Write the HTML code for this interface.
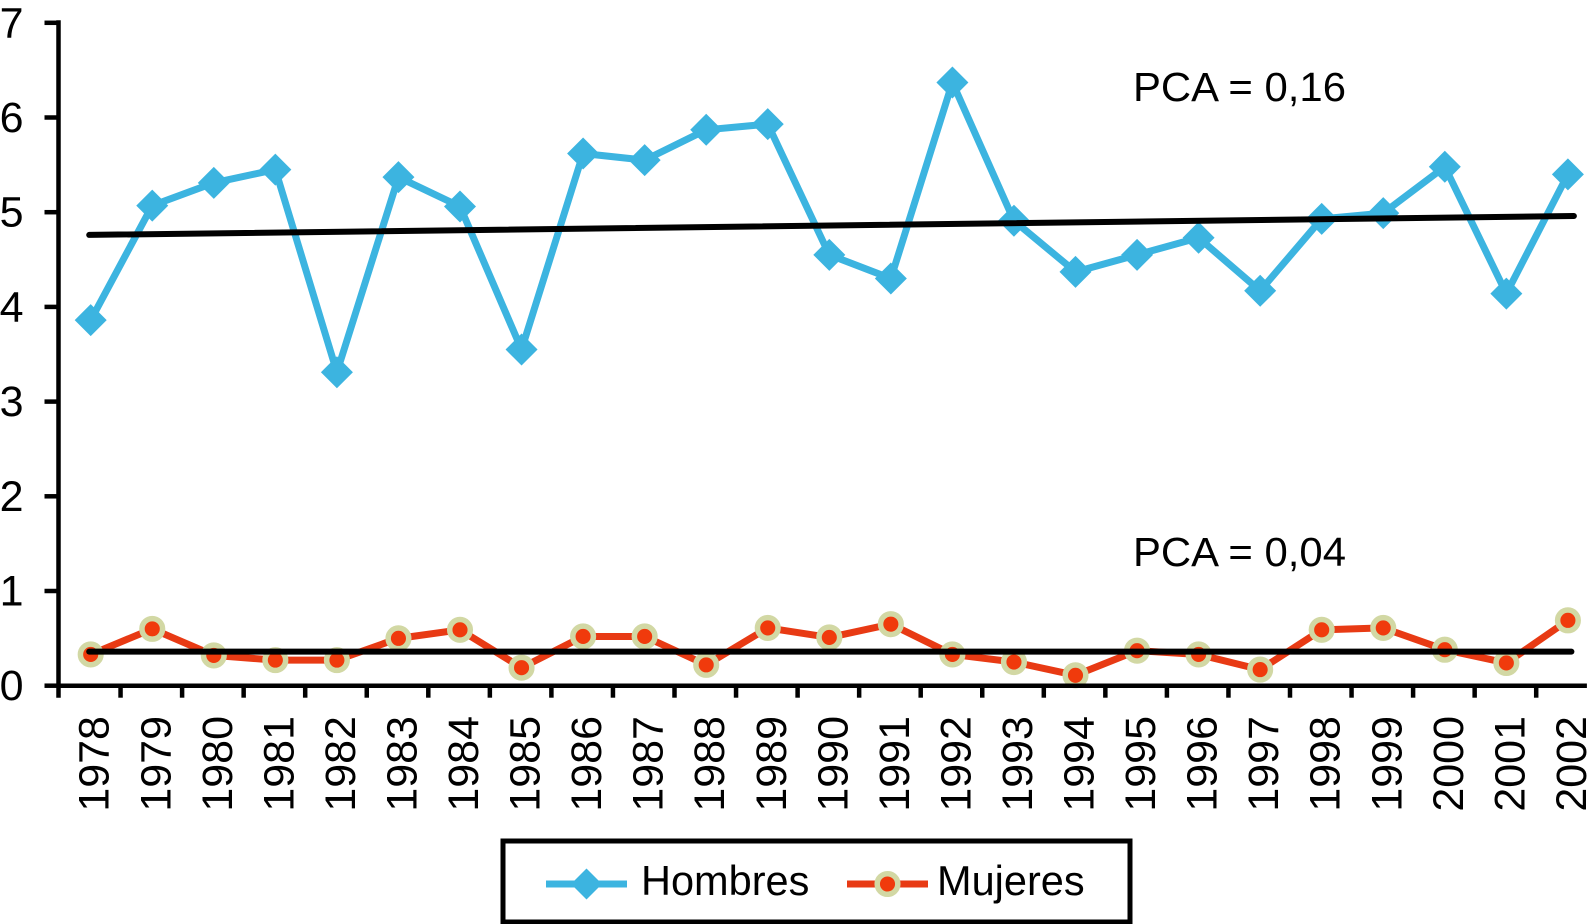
<!DOCTYPE html>
<html lang="es">
<head>
<meta charset="utf-8">
<title>Hombres y Mujeres 1978-2002</title>
<style>
html,body{margin:0;padding:0;background:#fff;}
svg{display:block;}
text{font-family:"Liberation Sans",sans-serif;fill:#000;}
</style>
</head>
<body>
<svg id="chart" xmlns="http://www.w3.org/2000/svg" width="1595" height="924" viewBox="0 0 1595 924">
  <g id="series"></g>
  <g id="trends-top"></g>
  <g id="axes"></g>
  <text x="1133" y="101" font-size="41" textLength="213" lengthAdjust="spacingAndGlyphs">PCA = 0,16</text>
  <text x="1133" y="566" font-size="41" textLength="213" lengthAdjust="spacingAndGlyphs">PCA = 0,04</text>
  <g>
    <rect x="503" y="841" width="627" height="81" fill="#fff" stroke="#000" stroke-width="5"/>
    <line x1="546" y1="884" x2="627" y2="884" stroke="#3cb4e0" stroke-width="7"/>
    <polygon points="586.5,868.5 602,884 586.5,899.5 571,884" fill="#3cb4e0"/>
    <text x="641" y="895" font-size="41.5">Hombres</text>
    <line x1="847" y1="884" x2="928" y2="884" stroke="#e83a14" stroke-width="7"/>
    <circle cx="887.5" cy="884" r="10.3" fill="#f03a0c" stroke="#d2d8a4" stroke-width="5.5"/>
    <text x="937" y="895" font-size="41.5">Mujeres</text>
  </g>
</svg>
<script>
const years = ["1978","1979","1980","1981","1982","1983","1984","1985","1986","1987","1988","1989","1990","1991","1992","1993","1994","1995","1996","1997","1998","1999","2000","2001","2002"];
const hombres = [3.86,5.07,5.31,5.45,3.31,5.37,5.06,3.55,5.62,5.55,5.87,5.93,4.55,4.30,6.37,4.91,4.37,4.55,4.73,4.17,4.93,4.99,5.48,4.14,5.40];
const mujeres = [0.33,0.60,0.32,0.27,0.27,0.50,0.59,0.19,0.52,0.52,0.22,0.61,0.51,0.65,0.33,0.25,0.11,0.37,0.33,0.17,0.59,0.61,0.38,0.24,0.69];
const hombresTrend = [4.76,4.96];
const mujeresTrend = [0.36,0.36];
const yTicks = [0,1,2,3,4,5,6,7];

const NS = 'http://www.w3.org/2000/svg';
const X0 = 90.7, XSTEP = 61.55, Y0 = 685.7, YUNIT = 94.7, AXIS_X = 58.5;
function xScale(i){ return X0 + XSTEP * i; }
function yScale(v){ return Y0 - YUNIT * v; }
function mk(tag, attrs, parent){
  const el = document.createElementNS(NS, tag);
  for (const k in attrs) el.setAttribute(k, attrs[k]);
  parent.appendChild(el);
  return el;
}
const axes = document.getElementById('axes');
const seriesLayer = document.getElementById('series');
const trendsTop = document.getElementById('trends-top');

/* axes */
const yAxis = mk('line', {x1:AXIS_X, y1:yScale(7)-2.5, x2:AXIS_X, y2:Y0+12, stroke:'#000','stroke-width':4.5}, axes);


const xAxis = mk('line', {x1:AXIS_X-2, y1:Y0, x2:xScale(years.length-1)+19, y2:Y0, stroke:'#000','stroke-width':4.5}, axes);



yTicks.forEach(function(v){
  const t = mk('line', {x1:AXIS_X-14, y1:yScale(v), x2:AXIS_X, y2:yScale(v), stroke:'#000','stroke-width':4.5}, axes);
  
  
  const l = mk('text', {x:23.5, y:yScale(v)+14.5, 'font-size':43, 'text-anchor':'end'}, axes);
  l.textContent = String(v);
  
  
});

years.forEach(function(y, i){
  const tx = AXIS_X + 0.5 + XSTEP * i;
  if (i > 0) {
    const t = mk('line', {x1:tx, y1:Y0, x2:tx, y2:Y0+12, stroke:'#000','stroke-width':4.5}, axes);
    
    
  }
  const lx = xScale(i) + 18, ly = 716;
  const l = mk('text', {x:lx, y:ly, 'font-size':43, 'text-anchor':'end', transform:'rotate(-90 '+lx+' '+ly+')'}, axes);
  l.textContent = y;
  
  
});

/* series */
function pts(values){ return values.map(function(v,i){ return xScale(i)+','+yScale(v); }).join(' '); }

const hLine = mk('polyline', {points:pts(hombres), fill:'none', stroke:'#3cb4e0','stroke-width':7,'stroke-linejoin':'round'}, seriesLayer);


hombres.forEach(function(v,i){
  const cx = xScale(i), cy = yScale(v), r = 16;
  const p = mk('polygon', {points:cx+','+(cy-r)+' '+(cx+r)+','+cy+' '+cx+','+(cy+r)+' '+(cx-r)+','+cy, fill:'#3cb4e0'}, seriesLayer);
  
  
});

const mLine = mk('polyline', {points:pts(mujeres), fill:'none', stroke:'#e83a14','stroke-width':7,'stroke-linejoin':'round'}, seriesLayer);


mujeres.forEach(function(v,i){
  const c = mk('circle', {cx:xScale(i), cy:yScale(v), r:10.3, fill:'#f03a0c', stroke:'#d2d8a4','stroke-width':5.5}, seriesLayer);
  
  
});

/* trend lines */
const ht = mk('line', {x1:xScale(0)-1.5, y1:yScale(hombresTrend[0]), x2:xScale(24)+6, y2:yScale(hombresTrend[1]), stroke:'#000','stroke-width':6,'stroke-linecap':'round'}, trendsTop);


const mt = mk('line', {x1:xScale(0)-1.5, y1:yScale(mujeresTrend[0]), x2:xScale(24)+3.5, y2:yScale(mujeresTrend[1]), stroke:'#000','stroke-width':6,'stroke-linecap':'round'}, trendsTop);


</script>
</body>
</html>
